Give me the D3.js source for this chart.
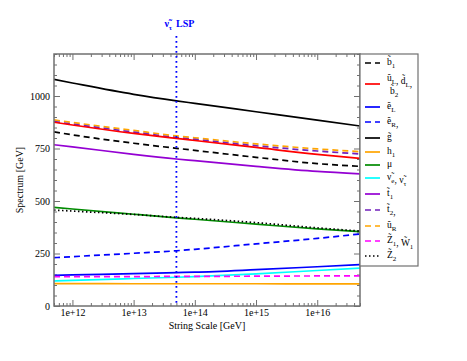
<!DOCTYPE html>
<html lang="en">
<head>
  <meta charset="UTF-8" />
  <title>Spectrum vs String Scale</title>
  <script src="https://d3js.org/d3.v7.min.js"></script>
  <style>
    body { margin: 0; background: #fff; }
    svg text { font-family: "Liberation Serif", "DejaVu Serif", serif; }
  </style>
</head>
<body>
  <svg id="chart" width="467" height="361"></svg>

  <script>
    // String scale sample points (GeV)
    const scales = [5e11, 1e12, 1e13, 5e13, 1e14, 1e15, 1e16, 5e16];

    // Spectrum values (GeV)
    const gluino   = [1079, 1062, 1008, 977, 965, 925, 885, 857];
    const uR       = [886, 874, 836, 810, 801, 772, 748, 735];
    const t2       = [878, 866, 828, 802, 793, 763, 738, 724];
    const uLdL     = [875, 862, 822, 798, 788, 755, 722, 703];
    const b1       = [829, 815, 775, 751, 741, 708, 678, 665];
    const t1       = [768, 758, 722, 700, 692, 665, 641, 629];
    const mu       = [470, 462, 437, 420, 413, 390, 367, 354];
    const z2       = [457, 452, 436, 422, 417, 397, 372, 357];
    const eR       = [230, 235, 251, 263, 270, 296, 322, 343];
    const eL       = [146, 148, 154, 159, 161, 173, 187, 197];
    const sneu     = [119, 122, 131, 137, 140, 153, 169, 180];
    const z1w1     = [140, 140, 140, 141, 141, 142, 143, 143];
    const h1       = [107, 107, 106, 106, 106, 106, 105, 105];

    const lspScale = 5e13;
    const yTicks = [0, 250, 500, 750, 1000];

    // legend order; label = list of [base, subscript]
    const series = [
      {label: [["b\u0303", "1"]], values: b1, color: "#000000", dash: "6,4"},
      {label: [["u\u0303", "L"], [", d\u0303", "L"], [",", ""]], label2: [["b\u0303", "2"]], values: uLdL, color: "#ff0000", dash: null},
      {label: [["e\u0303", "L"]], values: eL, color: "#0000ff", dash: null},
      {label: [["e\u0303", "R"], [",", ""]], values: eR, color: "#0000ff", dash: "6,4"},
      {label: [["g\u0303", ""]], values: gluino, color: "#000000", dash: null},
      {label: [["h", "1"]], values: h1, color: "#ffa500", dash: null},
      {label: [["\u03bc", ""]], values: mu, color: "#008b00", dash: null},
      {label: [["\u03bd\u0303", "e"], [", \u03bd\u0303", "\u03c4"]], values: sneu, color: "#00ffff", dash: null},
      {label: [["t\u0303", "1"]], values: t1, color: "#9400d3", dash: null},
      {label: [["t\u0303", "2"], [",", ""]], values: t2, color: "#7221bc", dash: "6,4"},
      {label: [["u\u0303", "R"]], values: uR, color: "#ffa500", dash: "6,4"},
      {label: [["Z\u0303", "1"], [", W\u0303", "1"]], values: z1w1, color: "#ff00ff", dash: "6,4"},
      {label: [["Z\u0303", "2"]], values: z2, color: "#000000", dash: "1.5,2.5"}
    ];
    const legendY = [63, 84, 107, 122, 138, 152, 165, 178, 194, 210, 226, 241, 256];

    const svg = d3.select("#chart"),
          margin = {top: 54, right: 107, bottom: 55, left: 54},
          width = 467 - margin.left - margin.right,
          height = 361 - margin.top - margin.bottom;

    const chart = svg.append("g")
        .attr("transform", `translate(${margin.left},${margin.top})`);

    const x = d3.scaleLog().domain([5e11, 5e16]).range([0, width]);
    const y = d3.scaleLinear().domain([0, 1200]).range([height, 0]);

    // minor / major tick values
    const xMajor = [1e12, 1e13, 1e14, 1e15, 1e16];
    const xMinor = [];
    for (let e = 11; e <= 16; e++) {
      for (let m = 2; m <= 9; m++) {
        const v = m * Math.pow(10, e);
        if (v >= 5e11 && v <= 5e16) xMinor.push(v);
      }
    }
    const yMinor = d3.range(0, 1201, 50).filter(v => v % 250 !== 0);
    const yMajor = yTicks;

    const frameColor = "#707070";
    const fmt = d => "1e+" + Math.round(Math.log10(d));

    function styleAxis(g) {
      g.select(".domain").remove();
      g.selectAll(".tick line").attr("stroke", frameColor).attr("stroke-width", 1);
      g.selectAll(".tick text").attr("fill", "#000").style("font-size", "10px")
        .style("font-family", "'Liberation Serif', serif");
    }

    // bottom
    chart.append("g").attr("transform", `translate(0,${height})`)
        .call(d3.axisBottom(x).tickValues(xMinor).tickSize(-3).tickFormat(""))
        .call(styleAxis);
    chart.append("g").attr("transform", `translate(0,${height})`)
        .call(d3.axisBottom(x).tickValues(xMajor).tickSizeInner(-6).tickSizeOuter(0).tickFormat(fmt))
        .call(styleAxis)
        .selectAll(".tick text").attr("y", 0).attr("dy", "0.95em");
    // top
    chart.append("g")
        .call(d3.axisTop(x).tickValues(xMinor).tickSize(-3).tickFormat(""))
        .call(styleAxis);
    chart.append("g")
        .call(d3.axisTop(x).tickValues(xMajor).tickSize(-6).tickFormat(""))
        .call(styleAxis);
    // left
    chart.append("g")
        .call(d3.axisLeft(y).tickValues(yMinor).tickSize(-3).tickFormat(""))
        .call(styleAxis);
    chart.append("g")
        .call(d3.axisLeft(y).tickValues(yMajor).tickSize(-6).tickFormat(d3.format("d")))
        .call(styleAxis)
        .selectAll(".tick text").attr("x", -4);
    // right
    chart.append("g").attr("transform", `translate(${width},0)`)
        .call(d3.axisRight(y).tickValues(yMinor).tickSize(-3).tickFormat(""))
        .call(styleAxis);
    chart.append("g").attr("transform", `translate(${width},0)`)
        .call(d3.axisRight(y).tickValues(yMajor).tickSize(-6).tickFormat(""))
        .call(styleAxis);

    // Curves
    const line = d3.line()
        .x((d, i) => x(scales[i]))
        .y(d => y(d))
        .curve(d3.curveMonotoneX);

    const drawOrder = [10, 9, 1, 0, 8, 4, 6, 12, 3, 2, 7, 11, 5];
    chart.append("clipPath").attr("id", "clip")
        .append("rect").attr("width", width).attr("height", height);
    const curves = chart.append("g").attr("clip-path", "url(#clip)");
    drawOrder.forEach(i => {
      const s = series[i];
      curves.append("path")
          .datum(s.values)
          .attr("d", line)
          .attr("fill", "none")
          .attr("stroke", s.color)
          .attr("stroke-width", 1.7)
          .attr("stroke-dasharray", s.dash);
    });

    // LSP marker
    chart.append("line")
        .attr("x1", x(lspScale)).attr("x2", x(lspScale))
        .attr("y1", -18).attr("y2", height)
        .attr("stroke", "#0000ff")
        .attr("stroke-width", 1.8)
        .attr("stroke-dasharray", "1.8,3.2");
    const lsp = svg.append("text")
        .attr("x", margin.left + x(lspScale) - 12)
        .attr("y", 27)
        .attr("fill", "#0000ff")
        .attr("font-size", "10px")
        .attr("font-weight", "bold");
    lsp.append("tspan").text("\u03bd\u0303");
    lsp.append("tspan").attr("dy", 3).attr("font-size", "7px").text("\u03c4");
    lsp.append("tspan").attr("dy", -3).attr("dx", 4).text("LSP");

    // Frame
    chart.append("rect")
        .attr("width", width).attr("height", height)
        .attr("fill", "none").attr("stroke", frameColor).attr("stroke-width", 1.5);

    // Legend
    const lx = margin.left + width;
    const legend = svg.append("g");
    legend.append("rect")
        .attr("x", lx).attr("y", 54).attr("width", 58).attr("height", 212)
        .attr("fill", "#fff").attr("stroke", frameColor).attr("stroke-width", 1.2);

    function writeLabel(textSel, parts) {
      parts.forEach(p => {
        textSel.append("tspan").text(p[0]);
        if (p[1]) {
          textSel.append("tspan").attr("dy", 3).attr("font-size", "7px").text(p[1]);
          textSel.append("tspan").attr("dy", -3).text("");
        }
      });
    }

    series.forEach((s, i) => {
      const ly = legendY[i];
      legend.append("line")
          .attr("x1", lx + 5).attr("x2", lx + 20)
          .attr("y1", ly).attr("y2", ly)
          .attr("stroke", s.color)
          .attr("stroke-width", 1.7)
          .attr("stroke-dasharray", s.dash);
      const t = legend.append("text")
          .attr("x", lx + 27)
          .attr("y", s.label2 ? ly - 3 : ly + 2)
          .attr("font-size", "9.5px");
      writeLabel(t, s.label);
      if (s.label2) {
        const t2 = legend.append("text")
            .attr("x", lx + 30)
            .attr("y", ly + 10)
            .attr("font-size", "9.5px");
        writeLabel(t2, s.label2);
      }
    });

    // Axis titles
    svg.append("text")
        .attr("x", margin.left + width / 2)
        .attr("y", 329)
        .attr("text-anchor", "middle")
        .attr("font-size", "10px")
        .text("String Scale [GeV]");

    svg.append("text")
        .attr("transform", `translate(23,${margin.top + height / 2}) rotate(-90)`)
        .attr("text-anchor", "middle")
        .attr("font-size", "10px")
        .text("Spectrum [GeV]");
  </script>
</body>
</html>
